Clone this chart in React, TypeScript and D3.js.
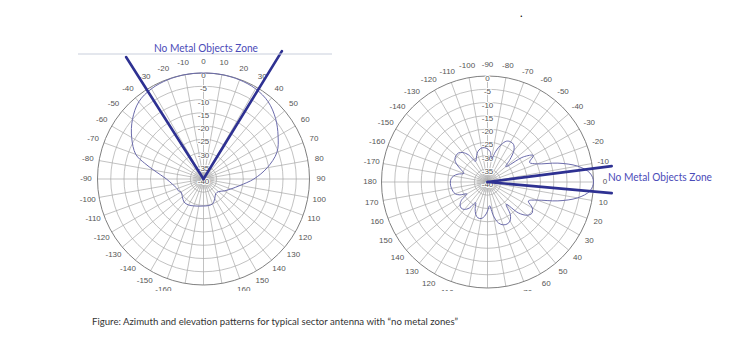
import React from 'react';
import * as d3 from 'd3';

const W = 735;
const H = 344;

// Azimuth pattern (deg clockwise from top, gain dB)
const azAngles = [-180, -170, -160, -150, -140, -130, -120, -115, -110, -100, -90, -80, -75, -70, -60, -50, -40, -30, -20, -10, 0, 10, 20, 30, 40, 50, 60, 70, 80, 90, 100, 110, 120, 130, 140, 150, 160, 170];
const azGain = [-29.8, -29.6, -29.2, -28.7, -28.6, -29.6, -30.2, -29.5, -29.4, -28.2, -26, -21, -17, -12.8, -8.7, -5, -2, -0.7, -0.2, 0, 0, 0, -0.2, -0.7, -2, -4.5, -7.5, -10.5, -15.6, -21, -26, -29, -31, -32.6, -32.8, -31.5, -30, -29.8];

// Elevation pattern (deg clockwise from east, gain dB)
const elAngles = [-180, -175, -170, -165, -160, -155, -150, -145, -140, -135, -130, -125, -120, -115, -110, -105, -100, -95, -90, -85, -80, -75, -70, -65, -60, -55, -50, -45, -40, -35, -30, -25, -20, -15, -10, -5, 0, 5, 10, 15, 20, 25, 30, 35, 40, 45, 50, 55, 60, 65, 70, 75, 80, 85, 90, 95, 100, 105, 110, 115, 120, 125, 130, 135, 140, 145, 150, 155, 160, 165, 170, 175];
const elGain = [-26, -26.2, -27, -28.5, -30.5, -29, -26.5, -25, -24.5, -24.5, -25.5, -27.5, -31, -30, -28.5, -27.5, -27, -27, -27.5, -28.5, -31, -28, -25, -23, -22.5, -22.8, -24.5, -28, -31, -23.5, -20, -22.5, -20, -12.5, -5.5, -1.2, 0, -1.2, -5.5, -12.5, -20, -23, -20.5, -19.5, -20.5, -23.5, -29, -25, -23, -22.5, -22.8, -24, -27, -31, -29, -27, -26, -26, -27, -29, -31, -28, -26.5, -26, -26.5, -28, -31, -28.5, -27, -26.5, -26.2, -26];

const ringLevels = [0, -5, -10, -15, -20, -25, -30, -35, -40];
const angleTicks = [-170, -160, -150, -140, -130, -120, -110, -100, -90, -80, -70, -60, -50, -40, -30, -20, -10, 0, 10, 20, 30, 40, 50, 60, 70, 80, 90, 100, 110, 120, 130, 140, 150, 160, 170, 180];

// "No metal objects zone" boundary directions
const azZone = [-32.4, 31.5];
const elZone = [-7.3, 5.1];

const zoneLabel = 'No Metal Objects Zone';
const caption = 'Figure: Azimuth and elevation patterns for typical sector antenna with \u201cno metal zones\u201d';

const FONT = '"Liberation Sans", Arial, sans-serif';
const CAP_FONT = 'Lato, "Open Sans", sans-serif';

type PolarProps = {
  cx: number; cy: number; R: number; offset: number;
  angles: number[]; gains: number[]; zone: number[]; zoneLen: number[];
};

function Polar({ cx, cy, R, offset, angles, gains, zone, zoneLen }: PolarProps) {
  const r = d3.scaleLinear().domain([-40, 0]).range([0, R]).clamp(true);
  const toRad = (deg: number) => ((deg + offset) * Math.PI) / 180;
  const pt = (deg: number, rad: number) => {
    const a = toRad(deg);
    return [rad * Math.sin(a), -rad * Math.cos(a)];
  };
  const data = angles.map((a, i) => [a, gains[i]] as [number, number]);
  const line = d3.lineRadial<[number, number]>()
    .angle((d) => toRad(d[0]))
    .radius((d) => r(d[1]))
    .curve(d3.curveCatmullRomClosed.alpha(0.5));
  const spokes = d3.range(0, 360, 10);
  return (
    <g transform={`translate(${cx},${cy})`}>
      <circle r={r(-36)} fill="#e4e4e4" />
      {spokes.map((s) => {
        const [x, y] = pt(s, R);
        return <line key={s} x1={0} y1={0} x2={x} y2={y} stroke="#a8a8a8" strokeWidth={0.7} />;
      })}
      {ringLevels.filter((l) => l > -40).map((l) => (
        <circle key={l} r={r(l)} fill="none" stroke={l === 0 ? '#808080' : '#a8a8a8'} strokeWidth={l === 0 ? 1 : 0.7} />
      ))}
      {ringLevels.map((l) => {
        const [x, y] = pt(-offset, r(l));
        return (
          <text key={l} x={x} y={y + 3} textAnchor="middle" dominantBaseline="middle"
            fontFamily={FONT} fontSize={8} fill="#555" stroke="#fff" strokeWidth={2}
            style={{ paintOrder: 'stroke' }}>{l}</text>
        );
      })}
      {angleTicks.map((t) => {
        const [x, y] = pt(t, R + 11.5);
        return (
          <text key={t} x={x} y={y} textAnchor="middle" dominantBaseline="middle"
            fontFamily={FONT} fontSize={8} fill="#555">{t}</text>
        );
      })}
      <path d={line(data) || ''} fill="none" stroke="#6b6bab" strokeWidth={1} />
      {zone.map((z, i) => {
        const [x, y] = pt(z, zoneLen[i]);
        return <line key={i} x1={0} y1={0} x2={x} y2={y} stroke="#2e3192" strokeWidth={2.6} strokeLinecap="round" />;
      })}
    </g>
  );
}

export default function App() {
  return (
    <svg width={W} height={H} style={{ position: 'absolute', left: 0, top: 0, background: '#fff' }}>
      <defs>
        <clipPath id="plotclip">
          <rect x={0} y={0} width={W} height={291} />
        </clipPath>
      </defs>
      <rect width={W} height={H} fill="#fff" />
      <g clipPath="url(#plotclip)">
        <Polar cx={203.5} cy={179} R={106} offset={0} angles={azAngles} gains={azGain} zone={azZone} zoneLen={[144.5, 150]} />
        <Polar cx={487.5} cy={182} R={106} offset={90} angles={elAngles} gains={elGain} zone={elZone} zoneLen={[125.2, 124.7]} />
      </g>
      <line x1={78} x2={332} y1={54} y2={54} stroke="#c9cfdc" strokeWidth={1} />
      <text x={206} y={49} textAnchor="middle" dominantBaseline="middle" fontFamily={CAP_FONT} fontSize={10.5}
        fill="#4b4bb8" textLength={104} lengthAdjust="spacingAndGlyphs">{zoneLabel}</text>
      <text x={608} y={178.5} dominantBaseline="middle" fontFamily={CAP_FONT} fontSize={10.5}
        fill="#4b4bb8" textLength={104} lengthAdjust="spacingAndGlyphs">{zoneLabel}</text>
      <text x={92} y={322} dominantBaseline="middle" fontFamily={CAP_FONT} fontSize={10}
        fill="#333" textLength={366} lengthAdjust="spacingAndGlyphs">{caption}</text>
      <text x={520} y={17} fontFamily={CAP_FONT} fontSize={11} fill="#000">.</text>
    </svg>
  );
}
